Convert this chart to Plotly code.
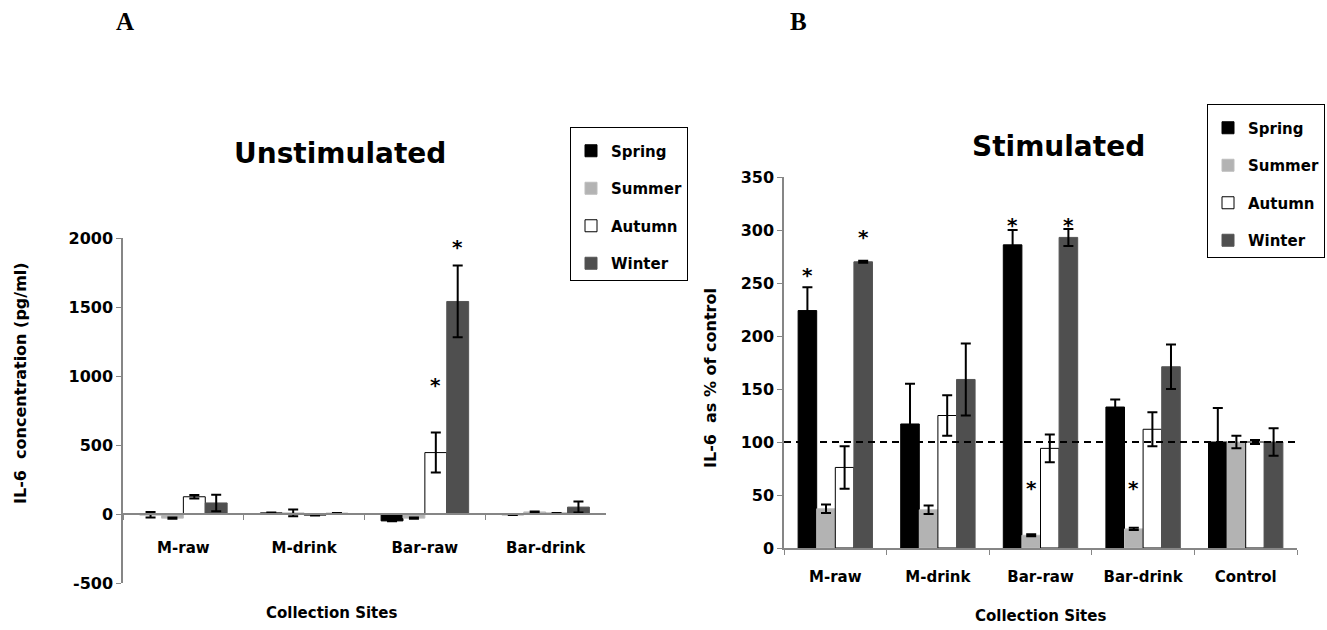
import plotly.graph_objects as go

# ---- data -------------------------------------------------------------
seasons = ["Spring", "Summer", "Autumn", "Winter"]

sites_a = ["M-raw", "M-drink", "Bar-raw", "Bar-drink"]
unstim_mean = {
    "Spring": [-5, 8, -50, -5],
    "Summer": [-30, 8, -30, 15],
    "Autumn": [125, -8, 445, 5],
    "Winter": [80, 5, 1540, 50],
}
unstim_err = {
    "Spring": [20, 3, 3, 3],
    "Summer": [5, 25, 5, 3],
    "Autumn": [12, 3, 145, 3],
    "Winter": [60, 3, 260, 40],
}
# significance marks: (site, season, height in pg/ml)
unstim_sig = [("Bar-raw", "Autumn", 935), ("Bar-raw", "Winter", 1935)]

sites_b = ["M-raw", "M-drink", "Bar-raw", "Bar-drink", "Control"]
stim_mean = {
    "Spring": [224, 117, 286, 133, 100],
    "Summer": [37, 36, 12, 18, 100],
    "Autumn": [76, 125, 94, 112, 100],
    "Winter": [270, 159, 293, 171, 100],
}
stim_err = {
    "Spring": [22, 38, 14, 7, 32],
    "Summer": [4, 4, 1, 1, 6],
    "Autumn": [20, 19, 13, 16, 2],
    "Winter": [1, 34, 8, 21, 13],
}
# significance marks: (site, season, height in % of control)
stim_sig = [
    ("M-raw", "Spring", 258), ("M-raw", "Winter", 293),
    ("Bar-raw", "Spring", 305), ("Bar-raw", "Winter", 305),
    ("Bar-raw", "Summer", 57), ("Bar-drink", "Summer", 57),
]
control_level = 100

y_ticks_a = [-500, 0, 500, 1000, 1500, 2000]
y_ticks_b = [0, 50, 100, 150, 200, 250, 300, 350]

# ---- styling ----------------------------------------------------------
W, H = 1327, 630
FONT = "DejaVu Sans"
fill = {"Spring": "#000000", "Summer": "#b3b3b3", "Autumn": "#ffffff", "Winter": "#4f4f4f"}
edge = {"Spring": "#000000", "Summer": "#bdbdbd", "Autumn": "#000000", "Winter": "#555555"}
AXIS_GREY = "#868686"
BARGAP = 0.275

dom_xa = [123 / W, 606 / W]
dom_ya = [(H - 583) / H, (H - 238) / H]
dom_xb = [784 / W, 1297 / W]
dom_yb = [(H - 548) / H, (H - 177) / H]

fig = go.Figure()

for s in seasons:
    fig.add_trace(go.Bar(
        x=sites_a, y=unstim_mean[s], name=s,
        marker=dict(color=fill[s], line=dict(color=edge[s], width=1)),
        error_y=dict(type="data", array=unstim_err[s], color="black", thickness=2, width=5),
        xaxis="x", yaxis="y", legend="legend", legendgroup="a" + s,
    ))
for s in seasons:
    fig.add_trace(go.Bar(
        x=sites_b, y=stim_mean[s], name=s,
        marker=dict(color=fill[s], line=dict(color=edge[s], width=1)),
        error_y=dict(type="data", array=stim_err[s], color="black", thickness=2, width=5),
        xaxis="x2", yaxis="y2", legend="legend2", legendgroup="b" + s,
    ))

# x axis of panel A sits on the zero line
zero_a = dom_ya[0] + (0 - y_ticks_a[0]) / (y_ticks_a[-1] - y_ticks_a[0]) * (dom_ya[1] - dom_ya[0])

tickfont = dict(family=FONT, size=16, color="black", weight="bold")
catfont = dict(family=FONT, size=15, color="black", weight="bold")
legfont = dict(family=FONT, size=15, color="black", weight="bold")


def legend_box(x, y):
    return dict(x=x / W, y=(H - y) / H, xanchor="left", yanchor="top",
                bgcolor="white", bordercolor="black", borderwidth=1,
                font=legfont, tracegroupgap=15, itemclick=False,
                title=dict(text=" ", font=dict(size=5)))


fig.update_layout(
    width=W, height=H, margin=dict(l=0, r=0, t=0, b=0),
    paper_bgcolor="white", plot_bgcolor="white",
    barmode="group", bargap=BARGAP, bargroupgap=0,
    font=dict(family=FONT, color="black"),
    xaxis=dict(domain=dom_xa, anchor="free", position=zero_a, showline=True,
               linecolor=AXIS_GREY, linewidth=1.5, ticks="outside", tickson="boundaries",
               ticklen=5, tickcolor=AXIS_GREY, tickfont=catfont, ticklabelstandoff=20,
               showgrid=False, zeroline=False, automargin=False),
    yaxis=dict(domain=dom_ya, anchor="x", range=[y_ticks_a[0], y_ticks_a[-1]],
               tickvals=y_ticks_a, ticktext=[str(v) for v in y_ticks_a],
               showline=True, linecolor=AXIS_GREY, linewidth=1.5,
               ticks="outside", ticklen=5, tickcolor=AXIS_GREY, tickfont=tickfont,
               showgrid=False, zeroline=False, automargin=False),
    xaxis2=dict(domain=dom_xb, anchor="y2", showline=True,
                linecolor=AXIS_GREY, linewidth=1.5, ticks="outside", tickson="boundaries",
                ticklen=5, tickcolor=AXIS_GREY, tickfont=catfont, ticklabelstandoff=14,
                showgrid=False, zeroline=False, automargin=False),
    yaxis2=dict(domain=dom_yb, anchor="x2", range=[y_ticks_b[0], y_ticks_b[-1]],
                tickvals=y_ticks_b, ticktext=[str(v) for v in y_ticks_b],
                showline=True, linecolor=AXIS_GREY, linewidth=1.5,
                ticks="outside", ticklen=5, tickcolor=AXIS_GREY, tickfont=tickfont,
                showgrid=False, zeroline=False, automargin=False),
    legend=legend_box(570, 127),
    legend2=legend_box(1207, 104),
    showlegend=True,
)

# dashed reference line at the control level
fig.add_shape(type="line", xref="x2 domain", yref="y2", x0=0, x1=1,
              y0=control_level, y1=control_level,
              line=dict(color="black", width=2, dash="7px,5px"))


def bar_shift(season, dom, ncat):
    """Pixel offset of a season's bar from its category centre."""
    cat_px = (dom[1] - dom[0]) * W / ncat
    bar_px = cat_px * (1 - BARGAP) / len(seasons)
    return (seasons.index(season) - (len(seasons) - 1) / 2) * bar_px


for site, s, yv in unstim_sig:
    fig.add_annotation(x=site, y=yv, xref="x", yref="y", text="*", showarrow=False,
                       xshift=bar_shift(s, dom_xa, len(sites_a)), yanchor="middle",
                       font=dict(family=FONT, size=20, color="black", weight="bold"))
for site, s, yv in stim_sig:
    fig.add_annotation(x=site, y=yv, xref="x2", yref="y2", text="*", showarrow=False,
                       xshift=bar_shift(s, dom_xb, len(sites_b)), yanchor="middle",
                       font=dict(family=FONT, size=20, color="black", weight="bold"))


# panel letters, titles and axis titles
def label(text, x, y, size, family=FONT, angle=0):
    fig.add_annotation(x=x / W, y=(H - y) / H, xref="paper", yref="paper", text=text,
                       showarrow=False, xanchor="center", yanchor="middle", textangle=angle,
                       font=dict(family=family, size=size, color="black", weight="bold"))


label("A", 125, 22, 25, family="Liberation Serif")
label("B", 798, 22, 25, family="Liberation Serif")
label("Unstimulated", 340, 153, 28)
label("Stimulated", 1058, 147, 28)
label("Collection Sites", 331, 613, 15)
label("Collection Sites", 1040, 616, 15)
label("IL-6  concentration (pg/ml)", 20, 383, 16, angle=-90)
label("IL-6  as % of control", 710, 378, 16, angle=-90)

fig.write_html("out.html")
